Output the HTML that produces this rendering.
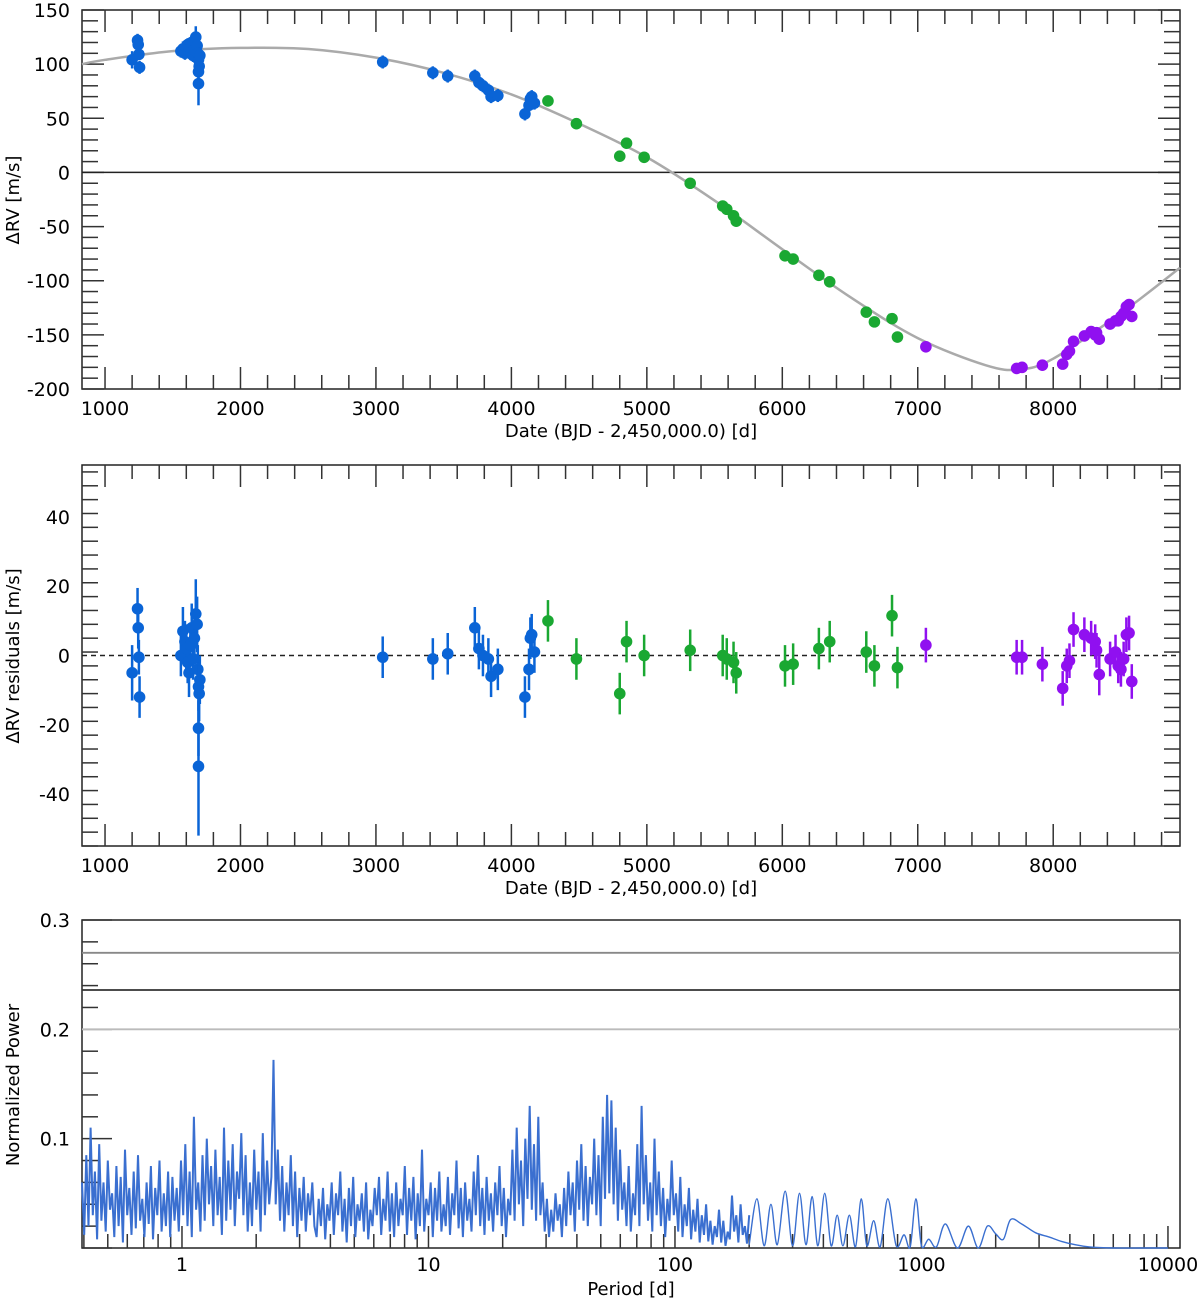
<!DOCTYPE html>
<html><head><meta charset="utf-8"><style>
body{margin:0;background:#fff;}
svg text{font-family:"DejaVu Sans","Liberation Sans",sans-serif;fill:#000;}
</style></head><body>
<svg id="s" width="1200" height="1305" xmlns="http://www.w3.org/2000/svg"></svg>
<script>
// ---- data ----
const blueT=[1200,1240,1245,1250,1255,1560,1575,1590,1600,1610,1620,1630,1640,1650,1660,1670,1680,1685,1690,1695,1700,1690,1690,3050,3420,3530,3730,3760,3790,3830,3850,3900,4100,4130,4140,4150,4170];
const blueRV=[104,122,118,109,97,112,114,110,116,118,112,115,120,108,113,125,117,110,104,98,108,93,82,102,92,89,89,83,80,76,70,71,54,62,68,70,64];
const blueRes=[-5,13.5,8,-0.5,-12,0,7,4,2,-2,-5,3,8,-1,5,12,9,-4,-9,-11,-7,-21,-32,-0.5,-1,0.5,8,2,0,-1,-6,-4,-12,-4,5,6,1];
const blueErr=[8,6,6,5,6,6,7,6,7,6,7,6,7,6,7,10,8,7,7,8,7,8,20,6,6,6,6,6,6,6,6,6,6,6,6,6,6];
const greenT=[4270,4480,4800,4850,4980,5320,5560,5590,5640,5660,6020,6080,6270,6350,6620,6680,6810,6850];
const greenRV=[66,45,15,27,14,-10,-31,-34,-40,-45,-77,-80,-95,-101,-129,-138,-135,-152];
const greenRes=[10,-1,-11,4,0,1.5,0,-1,-2,-5,-3,-2.5,2,4,1,-3,11.5,-3.5];
const greenErr=[6,6,6,6,6,6,6,6,6,6,6,6,6,6,6,6,6,6];
const purpT=[7060,7730,7770,7920,8070,8100,8120,8150,8230,8280,8310,8320,8340,8420,8460,8480,8500,8520,8540,8560,8580];
const purpRV=[-161,-181,-180,-178,-177,-168,-165,-156,-151,-147,-150,-148,-154,-140,-137,-137,-133,-130,-124,-122,-133];
const purpRes=[3,-0.5,-0.5,-2.5,-9.5,-3,-1.5,7.5,6,5,4,1.5,-5.5,-1,1,-3,-4,-1,6,6.5,-7.5];
const purpErr=[5,5,5,5,5,5,5,5,5,5,5,5,6,5,5,5,5,5,5,5,5];
const modelT=[830,1000,1500,2000,2500,3000,3500,4000,4500,5000,5500,6000,6500,7000,7500,7750,8000,8500,8936];
const modelRV=[100,104,112,115,114,106,92,72,45,14,-26,-71,-115,-153,-178,-182,-172,-130,-88];
const xTicks=[1000,2000,3000,4000,5000,6000,7000,8000];
const y1Ticks=[150,100,50,0,-50,-100,-150,-200];
const y2Ticks=[40,20,0,-20,-40];
const y3Ticks=[0.3,0.2,0.1];
const pTicks=[1,10,100,1000,10000];
const fapLevels=[0.27,0.236,0.2];
const noisePower=[60,12,85,20,110,30,70,8,95,25,60,15,80,35,50,10,75,20,65,5,90,30,55,12,70,18,85,25,45,10,60,22,75,8,55,30,80,15,50,20,70,10,65,25,55,
15,80,30,95,20,70,10,120,35,60,15,85,25,100,40,75,20,90,30,65,12,110,25,80,35,95,20,70,45,105,30,85,15,60,20,90,35,70,15,105,30,80,40,65,172,40,90,25,75,15,60,30,85,20,70,10,55,25,65,15,50,30,60,20,
10,45,20,55,8,40,25,60,12,50,30,70,15,45,5,55,20,65,10,40,25,50,15,60,8,35,20,55,30,65,12,45,25,70,15,50,10,60,20,45,30,75,12,55,25,65,8,50,20,90,15,45,30,60,10,55,25,70,15,40,20,65,12,50,30,80,18,55,10,60,25,45,15,70,30,85,20,55,12,65,25,50,15,60,30,75,20,55,10,45,
30,90,25,110,40,80,20,100,45,130,35,95,25,120,30,60,15,45,10,35,
15,50,25,40,10,55,20,70,30,60,15,80,35,95,25,75,20,65,40,100,30,85,20,120,45,140,50,135,40,110,25,90,35,60,20,75,15,50,30,95,20,130,40,85,25,60,15,100,30,70,20,55,10,45,25,80,30,50,15,65,10,40,20,55,8,35,15,45,5,30,12,40,6,25,3,20,10,35,5,25,2,15,8,48,15,30,5,40,12,20,4,30];
const smoothP=[200,215,230,245,260,280,300,320,340,360,380,405,430,455,480,510,540,570,600,640,680,730,790,850,900,950,1000,1070,1150,1250,1400,1550,1700,1850,2000,2150,2300,2550,2900,3300,3700,4200,4800,6000,8000,10000];
const smoothPow=[0.003,0.045,0.002,0.04,0.003,0.052,0.002,0.05,0.003,0.047,0.002,0.05,0.002,0.03,0.002,0.03,0.001,0.045,0.002,0.025,0.001,0.045,0.002,0.012,0.001,0.045,0.002,0.008,0.001,0.022,0.0,0.02,0.0,0.02,0.013,0.008,0.026,0.022,0.014,0.01,0.006,0.003,0.001,0.0,0.0,0.0];
// ---- helpers ----
const S=document.getElementById('s');const NS='http://www.w3.org/2000/svg';
function mk(t,a,p){const e=document.createElementNS(NS,t);for(const k in a)e.setAttribute(k,a[k]);(p||S).appendChild(e);return e;}
const L=82,R=1180;
const xD=d=>L+(d-830)/(8936-830)*(R-L);
const P1={t:10,b:389,hi:150,lo:-200},P2={t:465,b:846,hi:55,lo:-55},P3={t:920,b:1248,hi:0.3,lo:0};
const yP=(P,v)=>P.t+(P.hi-v)/(P.hi-P.lo)*(P.b-P.t);
const lpL=Math.log10(0.393),lpR=Math.log10(11190);
const xP=p=>L+(Math.log10(p)-lpL)/(lpR-lpL)*(R-L);
function frame(P,name){const g=mk('g',{});
 mk('rect',{x:L,y:P.t,width:R-L,height:P.b-P.t,fill:'none',stroke:'#222','stroke-width':1.5},g);return g;}
function dateAxes(P,name,minorY,majorY){
 const g=frame(P,name);
 for(let d=1000;d<=8800;d+=200){const x=xD(d),len=d%1000==0?22:14;
  mk('line',{x1:x,x2:x,y1:P.b,y2:P.b-len,stroke:'#333','stroke-width':1.5},g);mk('line',{x1:x,x2:x,y1:P.t,y2:P.t+len,stroke:'#333','stroke-width':1.5},g);}
 for(let v=P.lo;v<=P.hi+1e-9;v+=minorY){const y=yP(P,v),mj=Math.abs(v%majorY)<1e-6,len=mj?22:16;
  mk('line',{x1:L,x2:L+len,y1:y,y2:y,stroke:'#333','stroke-width':1.5},g);mk('line',{x1:R,x2:R-len,y1:y,y2:y,stroke:'#333','stroke-width':1.5},g);}
 xTicks.forEach(d=>{const t=mk('text',{x:xD(d),y:P.b+26,'font-size':19,'text-anchor':'middle'},g);t.textContent=d;});
 const t=mk('text',{x:631,y:P.b+48,'font-size':18,'text-anchor':'middle'},g);t.textContent='Date (BJD - 2,450,000.0) [d]';
}
// panel 1
dateAxes(P1,'rv-panel',10,50);
y1Ticks.forEach(v=>{const t=mk('text',{x:70,y:yP(P1,v)+7,'font-size':19,'text-anchor':'end'});t.textContent=v;});
{const t=mk('text',{x:19,y:200,'font-size':18,'text-anchor':'middle',transform:'rotate(-90 19 200)'});t.textContent='ΔRV [m/s]';}
{const l=mk('line',{x1:L,x2:R,y1:yP(P1,0),y2:yP(P1,0),stroke:'#222','stroke-width':1.5});}
function cr(xs,ys){let d='M'+xs[0]+' '+ys[0];for(let i=0;i<xs.length-1;i++){const x0=xs[Math.max(i-1,0)],y0=ys[Math.max(i-1,0)],x1=xs[i],y1=ys[i],x2=xs[i+1],y2=ys[i+1],x3=xs[Math.min(i+2,xs.length-1)],y3=ys[Math.min(i+2,xs.length-1)];
 d+=' C'+(x1+(x2-x0)/6)+' '+(y1+(y2-y0)/6)+' '+(x2-(x3-x1)/6)+' '+(y2-(y3-y1)/6)+' '+x2+' '+y2;}return d;}
{const p=mk('path',{d:cr(modelT.map(xD),modelRV.map(v=>yP(P1,v))),fill:'none',stroke:'#aaa','stroke-width':2.5});}
function series(P,T,V,E,col,name){const g=mk('g',{});
 T.forEach((t,i)=>{const x=xD(t);mk('line',{x1:x,x2:x,y1:yP(P,V[i]+E[i]),y2:yP(P,V[i]-E[i]),stroke:col,'stroke-width':2.5},g);
  const c=mk('circle',{cx:x,cy:yP(P,V[i]),r:5.8,fill:col},g);});}
const cB='#0a64d6',cG='#1aa832',cP='#9010f0';
series(P1,blueT,blueRV,blueErr,cB,'rv-blue');
series(P1,greenT,greenRV,greenErr.map(e=>e*0.6),cG,'rv-green');
series(P1,purpT,purpRV,purpErr.map(e=>e*0.5),cP,'rv-purple');
// panel 2
dateAxes(P2,'residual-panel',4,20);
y2Ticks.forEach(v=>{const t=mk('text',{x:70,y:yP(P2,v)+7,'font-size':19,'text-anchor':'end'});t.textContent=v;});
{const t=mk('text',{x:19,y:656,'font-size':18,'text-anchor':'middle',transform:'rotate(-90 19 656)'});t.textContent='ΔRV residuals [m/s]';}
{const l=mk('line',{x1:L,x2:R,y1:yP(P2,0),y2:yP(P2,0),stroke:'#222','stroke-width':1.5,'stroke-dasharray':'5,4'});}
series(P2,blueT,blueRes,blueErr,cB,'res-blue');
series(P2,greenT,greenRes,greenErr,cG,'res-green');
series(P2,purpT,purpRes,purpErr,cP,'res-purple');
// panel 3
{const g=frame(P3,'periodogram');
 for(let v=0;v<=0.3001;v+=0.02){const y=yP(P3,v),mj=Math.abs((v*10)%1)<1e-6||Math.abs((v*10)%1-1)<1e-6;mk('line',{x1:L,x2:L+(mj?30:16),y1:y,y2:y,stroke:'#333','stroke-width':1.5},g);}
 for(let e=-1;e<5;e++)for(let k=1;k<10;k++){const p=k*Math.pow(10,e);if(p<0.393||p>11000)continue;const x=xP(p);mk('line',{x1:x,x2:x,y1:P3.b,y2:P3.b-(k==1?22:14),stroke:'#333','stroke-width':1.5},g);}}
y3Ticks.forEach(v=>{const t=mk('text',{x:70,y:yP(P3,v)+7,'font-size':19,'text-anchor':'end'});t.textContent=v.toFixed(1);});
pTicks.forEach(p=>{const t=mk('text',{x:xP(p),y:P3.b+23,'font-size':19,'text-anchor':'middle'});t.textContent=p;});
{const t=mk('text',{x:631,y:1295,'font-size':18,'text-anchor':'middle'});t.textContent='Period [d]';}
{const t=mk('text',{x:19,y:1085,'font-size':18,'text-anchor':'middle',transform:'rotate(-90 19 1085)'});t.textContent='Normalized Power';}
const fapCols=['#888','#333','#bbb'];
fapLevels.forEach((v,i)=>{const l=mk('line',{x1:L,x2:R,y1:yP(P3,v),y2:yP(P3,v),stroke:fapCols[i],'stroke-width':1.8});});
{const n=noisePower.length,a=lpL,b=Math.log10(200);
 const pts=noisePower.map((v,i)=>{const p=Math.pow(10,a+(b-a)*i/(n-1));return xP(p).toFixed(1)+','+yP(P3,v/1000).toFixed(1);}).join(' ');
 const pl=mk('polyline',{points:pts,fill:'none',stroke:'#3a6fd0','stroke-width':2});
 const sp=mk('path',{d:cr(smoothP.map(xP),smoothPow.map(v=>yP(P3,v))),fill:'none',stroke:'#3a6fd0','stroke-width':1.4});}
</script>
</body></html>
